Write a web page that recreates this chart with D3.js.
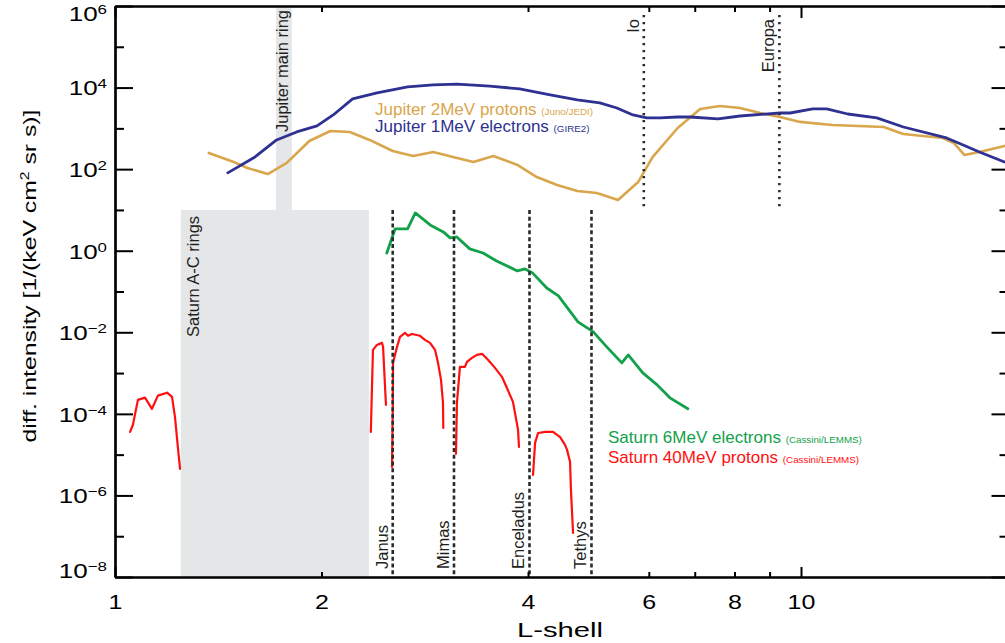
<!DOCTYPE html>
<html lang="en">
<head>
<meta charset="utf-8">
<title>Radiation belt intensities at Jupiter and Saturn versus L-shell</title>
<script src="https://cdn.jsdelivr.net/npm/d3@7"></script>
<style>
  html, body { margin: 0; padding: 0; background: #fff; }
  svg { display: block; }
</style>
</head>
<body>
<svg id="chart" width="1005" height="643"></svg>
<script>
// ---- Differential intensity [1/(keV cm^2 sr s)] versus L-shell, as [L, intensity] ----

// Jupiter, 1 MeV electrons (GIRE2 model)
const jupiterElectrons = [
  [1.46, 81], [1.60, 199], [1.72, 520], [1.84, 817], [1.97, 1150], [2.08, 2130],
  [2.22, 5260], [2.41, 7380], [2.67, 10400], [2.91, 11600], [3.15, 12200], [3.52, 10900],
  [3.89, 9250], [4.31, 6600], [4.72, 4970], [5.09, 4200], [5.39, 3160], [5.69, 2130],
  [5.96, 1800], [6.23, 1800], [6.61, 1900], [6.89, 1900], [7.57, 1700], [8.15, 2010],
  [9.32, 2380], [9.64, 2380], [10.4, 2990], [10.9, 2990], [11.7, 2250], [12.9, 1800],
  [14.1, 1080], [16.3, 582], [17.1, 415], [18.2, 264], [19.8, 150]
];

// Jupiter, 2 MeV protons (Juno/JEDI)
const jupiterProtons = [
  [1.37, 250], [1.49, 150], [1.56, 107], [1.67, 76], [1.78, 142], [1.92, 490],
  [2.06, 863], [2.20, 817], [2.35, 520], [2.54, 279], [2.72, 211], [2.91, 264],
  [3.11, 199], [3.33, 150], [3.56, 211], [3.86, 127], [4.12, 64], [4.41, 41],
  [4.72, 29], [5.04, 26], [5.41, 17.6], [5.79, 48.5], [6.08, 199], [6.61, 1020],
  [7.13, 2990], [7.62, 3540], [8.15, 3160], [8.72, 2380], [9.32, 1900], [9.97, 1440],
  [11.1, 1210], [13.2, 1080], [14.1, 730], [16.1, 582], [16.7, 438], [17.3, 223],
  [18.2, 264], [19.8, 371]
];

// Saturn, 6 MeV electrons (Cassini/LEMMS)
const saturnElectrons = [
  [2.49, 0.88], [2.56, 3.42], [2.67, 3.42], [2.74, 8.43], [2.88, 4.29], [3.01, 2.89],
  [3.08, 2.06], [3.15, 2.18], [3.29, 1.11], [3.44, 0.88], [3.60, 0.56], [3.86, 0.32],
  [3.96, 0.358], [4.06, 0.286], [4.26, 0.122], [4.43, 0.078], [4.73, 0.018], [4.98, 0.0102],
  [5.21, 0.00439], [5.48, 0.00178], [5.60, 0.00279], [5.88, 0.00101], [6.17, 0.000514],
  [6.44, 0.000247], [6.84, 0.000133]
];

// Saturn, 40 MeV protons (Cassini/LEMMS): separate belts between the moon sweeping gaps
const saturnProtonsInner = [
  [1.052, 3.6e-5], [1.062, 5.4e-5], [1.080, 2.2e-4], [1.106, 2.5e-4], [1.132, 1.33e-4],
  [1.155, 2.8e-4], [1.191, 3.3e-4], [1.211, 2.6e-4], [1.223, 8.4e-5], [1.235, 1.5e-5],
  [1.244, 4.5e-6]
];
const saturnProtonsRingEdge = [
  [2.360, 3.6e-5], [2.377, 3.7e-3], [2.409, 4.9e-3], [2.430, 5.2e-3], [2.450, 5.5e-3],
  [2.459, 4.4e-3], [2.483, 1.66e-4]
];
const saturnProtonsJanusMimas = [
  [2.534, 5.0e-6], [2.540, 1.0e-4], [2.543, 1.78e-3], [2.577, 4.4e-3], [2.603, 7.7e-3],
  [2.647, 9.7e-3], [2.674, 8.2e-3], [2.710, 9.1e-3], [2.784, 8.2e-3], [2.830, 6.5e-3],
  [2.879, 5.5e-3], [2.928, 3.7e-3], [2.957, 1.78e-3], [2.987, 6.8e-4], [3.007, 1.86e-4],
  [3.010, 4.5e-5]
];
const saturnProtonsMimasEnceladus = [
  [3.141, 1.05e-5], [3.151, 1.86e-4], [3.183, 1.42e-3], [3.237, 1.42e-3], [3.259, 1.88e-3],
  [3.314, 2.36e-3], [3.370, 2.79e-3], [3.428, 2.96e-3], [3.497, 2.11e-3], [3.580, 1.34e-3],
  [3.665, 8.1e-4], [3.727, 4.3e-4], [3.803, 1.97e-4], [3.868, 4.1e-5], [3.881, 1.55e-5]
];
const saturnProtonsEnceladusTethys = [
  [4.068, 3.2e-6], [4.096, 1.95e-5], [4.137, 3.4e-5], [4.241, 3.6e-5], [4.351, 3.6e-5],
  [4.455, 2.7e-5], [4.529, 1.74e-5], [4.560, 1.31e-5], [4.606, 6.7e-6], [4.620, 1.37e-6],
  [4.653, 1.2e-7]
];
const saturnProtonBelts = [
  saturnProtonsInner, saturnProtonsRingEdge, saturnProtonsJanusMimas,
  saturnProtonsMimasEnceladus, saturnProtonsEnceladusTethys
];

// Moon orbits (L-shell) and the intensity span their markers cover
const jupiterMoonNames = ["Io", "Europa"];
const jupiterMoonL = [5.9, 9.3];
const jupiterMoonSpan = [1e1, 6e5];
const saturnMoonNames = ["Janus", "Mimas", "Enceladus", "Tethys"];
const saturnMoonL = [2.54, 3.12, 4.02, 4.95];
const saturnMoonSpan = [1e-8, 1e1];

// Ring regions: [inner L, outer L, upper intensity, lower intensity]
const jupiterRing = [1.717, 1.81, 1e6, 1e1];
const saturnRings = [1.247, 2.345, 1e1, 1e-8];

// Axis ticks
const lLabelTicks = [1, 2, 4, 6, 8, 10];
const lMajorTicks = [1, 10];
const lMinorTicks = [2, 4, 6, 7, 8, 9];
const intensityMajorTicks = [1e-8, 1e-6, 1e-4, 1e-2, 1e0, 1e2, 1e4, 1e6];
const intensityMinorTicks = [1e-7, 1e-5, 1e-3, 1e-1, 1e1, 1e3, 1e5];
const intensityExponents = ["\u22128", "\u22126", "\u22124", "\u22122", "0", "2", "4", "6"];

// ---- Drawing ----
const FONT = "'Liberation Sans', Arial, Helvetica, sans-serif";
const COLORS = {
  jupElectrons: "#2e3192",
  jupProtons: "#d9a64c",
  satElectrons: "#12a14b",
  satProtons: "#ff1010",
  ring: "#e5e6e8",
  moon: "#2a2a2a",
  label: "#231f20"
};

const svg = d3.select("#chart");
svg.append("rect").attr("width", 1005).attr("height", 643).attr("fill", "#fff");

const x = d3.scaleLog().domain([1, 20]).range([115, 1007.5]);
const y = d3.scaleLog().domain([1e-8, 1e6]).range([577, 6]);
const [x0, x1] = x.range();
const [yBottom, yTop] = y.range();

// stretch a text element horizontally by factor k (wide plotting font)
function stretch(node, k) {
  const len = node.getComputedTextLength();
  d3.select(node).attr("textLength", len * k).attr("lengthAdjust", "spacingAndGlyphs");
}

// Ring regions
function ringRect(r) {
  svg.append("rect")
    .attr("x", x(r[0])).attr("width", x(r[1]) - x(r[0]))
    .attr("y", y(r[2])).attr("height", y(r[3]) - y(r[2]))
    .attr("fill", COLORS.ring);
}
ringRect(saturnRings);
ringRect(jupiterRing);

function vLabel(px, py, text, anchor) {
  svg.append("text")
    .attr("transform", `translate(${px},${py}) rotate(-90)`)
    .attr("text-anchor", anchor)
    .attr("font-family", FONT).attr("font-size", 16.5)
    .attr("fill", COLORS.label)
    .text(text);
}
vLabel((x(jupiterRing[0]) + x(jupiterRing[1])) / 2 + 4, yTop + 4, "Jupiter main ring", "end");
vLabel(x(saturnRings[0]) + 18, y(saturnRings[2]) + 6, "Saturn A-C rings", "end");

// Data curves
const line = d3.line().x(d => x(d[0])).y(d => y(d[1]));
function curve(data, color, width) {
  svg.append("path").datum(data)
    .attr("d", line).attr("fill", "none")
    .attr("stroke", color).attr("stroke-width", width)
    .attr("stroke-linejoin", "round").attr("stroke-linecap", "round");
}
curve(jupiterProtons, COLORS.jupProtons, 2.6);
curve(jupiterElectrons, COLORS.jupElectrons, 2.8);
curve(saturnElectrons, COLORS.satElectrons, 2.8);
saturnProtonBelts.forEach(b => curve(b, COLORS.satProtons, 2.2));

// Moon orbit markers
jupiterMoonL.forEach((L, i) => {
  svg.append("line")
    .attr("x1", x(L)).attr("x2", x(L))
    .attr("y1", y(jupiterMoonSpan[1])).attr("y2", y(jupiterMoonSpan[0]))
    .attr("stroke", COLORS.moon).attr("stroke-width", 2.6)
    .attr("stroke-dasharray", "2.2,4.8");
  vLabel(x(L) - 5, yTop + 13, jupiterMoonNames[i], "end");
});
saturnMoonL.forEach((L, i) => {
  svg.append("line")
    .attr("x1", x(L)).attr("x2", x(L))
    .attr("y1", y(saturnMoonSpan[1])).attr("y2", y(saturnMoonSpan[0]))
    .attr("stroke", COLORS.moon).attr("stroke-width", 2.6)
    .attr("stroke-dasharray", "4,2.8");
  vLabel(x(L) - 5, yBottom - 8, saturnMoonNames[i], "start");
});

// Legends
function legend(px, py, main, source, color) {
  const t = svg.append("text")
    .attr("x", px).attr("y", py)
    .attr("font-family", FONT).attr("font-size", 17)
    .attr("fill", color);
  t.append("tspan").text(main + " ");
  t.append("tspan").attr("font-size", 9.8).text(source);
}
legend(375, 115, "Jupiter 2MeV protons", "(Juno/JEDI)", COLORS.jupProtons);
legend(375, 132, "Jupiter 1MeV electrons", "(GIRE2)", COLORS.jupElectrons);
legend(608, 443, "Saturn 6MeV electrons", "(Cassini/LEMMS)", COLORS.satElectrons);
legend(608, 463, "Saturn 40MeV protons", "(Cassini/LEMMS)", COLORS.satProtons);

// ---- Axes ----
function styleAxis(g) {
  g.attr("color", "#000").attr("font-family", FONT);
  g.selectAll(".domain").attr("stroke-width", 2.2);
  g.selectAll(".tick line").attr("stroke-width", 2);
}

// left (labelled) and right intensity axes
const left = svg.append("g").attr("transform", `translate(${x0},0)`)
  .call(d3.axisLeft(y).tickValues(intensityMajorTicks).tickSizeInner(-18).tickSizeOuter(0)
    .tickPadding(8).tickFormat(() => ""));
svg.append("g").attr("transform", `translate(${x0},0)`)
  .call(d3.axisLeft(y).tickValues(intensityMinorTicks).tickSizeInner(-9).tickSizeOuter(0)
    .tickFormat(() => ""))
  .call(styleAxis);
svg.append("g").attr("transform", `translate(${x1},0)`)
  .call(d3.axisRight(y).tickValues(intensityMajorTicks).tickSizeInner(-16).tickSizeOuter(0)
    .tickFormat(() => ""))
  .call(styleAxis);
svg.append("g").attr("transform", `translate(${x1},0)`)
  .call(d3.axisRight(y).tickValues(intensityMinorTicks).tickSizeInner(-8).tickSizeOuter(0)
    .tickFormat(() => ""))
  .call(styleAxis);
left.call(styleAxis);
const lastTick = intensityMajorTicks.length - 1;
left.selectAll(".tick text")
  .attr("font-size", 20).attr("fill", "#000")
  // labels at the ends of the axis are nudged inside the frame
  .attr("y", (d, i) => (i === 0 ? -7 : i === lastTick ? 7 : 0))
  .attr("dy", "0.37em")
  .each(function (d, i) {
    const t = d3.select(this);
    t.text(null);
    t.append("tspan").text("10");
    t.append("tspan").attr("dy", -7).attr("font-size", 13).text(intensityExponents[i]);
    stretch(this, 1.3);
  });

// bottom (labelled) and top L-shell axes
svg.append("g").attr("transform", `translate(0,${yBottom})`)
  .call(d3.axisBottom(x).tickValues(lMajorTicks).tickSizeInner(-10).tickSizeOuter(0)
    .tickFormat(() => ""))
  .call(styleAxis);
svg.append("g").attr("transform", `translate(0,${yBottom})`)
  .call(d3.axisBottom(x).tickValues(lMinorTicks).tickSizeInner(-5).tickSizeOuter(0)
    .tickFormat(() => ""))
  .call(styleAxis);
const bottomLabels = svg.append("g").attr("transform", `translate(0,${yBottom})`)
  .call(d3.axisBottom(x).tickValues(lLabelTicks).tickSize(0).tickPadding(18)
    .tickFormat(d3.format("d")));
bottomLabels.select(".domain").remove();
bottomLabels.attr("font-family", FONT);
bottomLabels.selectAll(".tick text").attr("font-size", 20).attr("fill", "#000")
  .each(function () { stretch(this, 1.25); });

svg.append("g").attr("transform", `translate(0,${yTop})`)
  .call(d3.axisTop(x).tickValues(lMajorTicks).tickSizeInner(-12).tickSizeOuter(0)
    .tickFormat(() => ""))
  .call(styleAxis);
svg.append("g").attr("transform", `translate(0,${yTop})`)
  .call(d3.axisTop(x).tickValues(lMinorTicks).tickSizeInner(-6).tickSizeOuter(0)
    .tickFormat(() => ""))
  .call(styleAxis);

// Axis titles
const xTitle = svg.append("text")
  .attr("x", 560).attr("y", 637)
  .attr("text-anchor", "middle")
  .attr("font-family", FONT).attr("font-size", 20).attr("fill", "#000")
  .text("L-shell");
xTitle.attr("textLength", 86).attr("lengthAdjust", "spacingAndGlyphs");

const yTitle = svg.append("text")
  .attr("transform", "translate(36,276) rotate(-90)")
  .attr("text-anchor", "middle")
  .attr("font-family", FONT).attr("font-size", 19).attr("fill", "#000");
yTitle.append("tspan").text("diff. intensity [1/(keV cm");
yTitle.append("tspan").attr("dy", -7).attr("font-size", 12).text("2");
yTitle.append("tspan").attr("dy", 7).text(" sr s)]");
yTitle.attr("textLength", 333).attr("lengthAdjust", "spacingAndGlyphs");
</script>
</body>
</html>
